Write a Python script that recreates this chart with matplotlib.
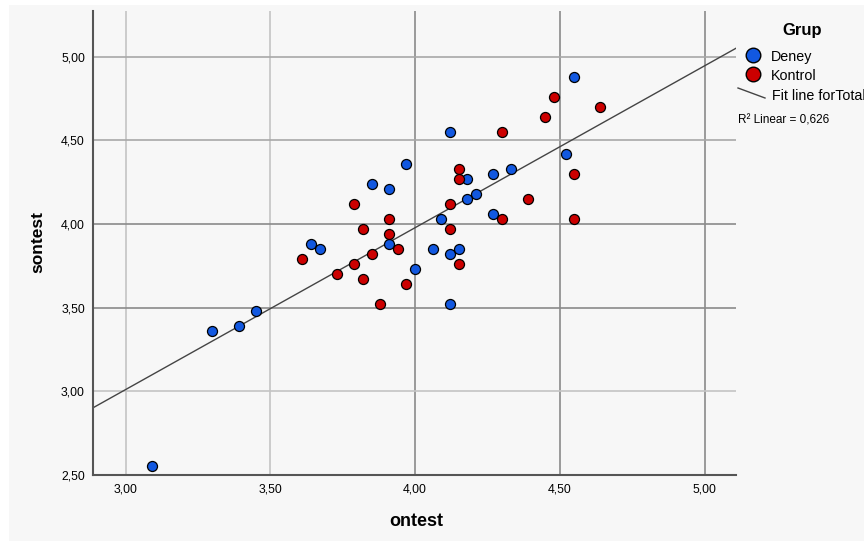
import numpy as np
import matplotlib
matplotlib.use("Agg")
import matplotlib.pyplot as plt
from matplotlib.lines import Line2D
from matplotlib.patches import Rectangle

plt.rcParams['font.family'] = ['Liberation Sans', 'DejaVu Sans']

# Deney group
deney_ontest = [3.09, 3.30, 3.39, 3.45, 3.64, 3.67, 3.91, 4.00, 3.97, 3.85, 3.91, 4.55, 4.12,
                4.52, 4.18, 4.27, 4.33, 4.21, 4.18, 4.09, 4.27, 4.06, 4.12, 4.15, 4.12]
deney_sontest = [2.55, 3.36, 3.39, 3.48, 3.88, 3.85, 3.88, 3.73, 4.36, 4.24, 4.21, 4.88, 4.55,
                 4.42, 4.27, 4.30, 4.33, 4.18, 4.15, 4.03, 4.06, 3.85, 3.82, 3.85, 3.52]
# Kontrol group
kontrol_ontest = [3.61, 3.79, 3.82, 3.91, 3.91, 3.94, 3.85, 3.79, 3.73, 3.82, 3.97, 3.88, 4.48,
                  4.64, 4.45, 4.30, 4.15, 4.15, 4.55, 4.39, 4.12, 4.30, 4.55, 4.12, 4.15]
kontrol_sontest = [3.79, 4.12, 3.97, 4.03, 3.94, 3.85, 3.82, 3.76, 3.70, 3.67, 3.64, 3.52, 4.76,
                   4.70, 4.64, 4.55, 4.33, 4.27, 4.30, 4.15, 4.12, 4.03, 4.03, 3.97, 3.76]

x_ticks = [3.0, 3.5, 4.0, 4.5, 5.0]
y_ticks = [2.5, 3.0, 3.5, 4.0, 4.5, 5.0]
r2_text = "R² Linear = 0,626"

W, H = 864, 541
fig = plt.figure(figsize=(W / 100, H / 100), dpi=100)
fig.patch.set_facecolor('white')
fig.patches.append(Rectangle((9 / W, 0), 1, 1 - 5 / H, transform=fig.transFigure,
                             facecolor='#f7f7f7', edgecolor='none', zorder=-10))

ax = fig.add_axes([93.3 / W, 1 - 474.7 / H, (736 - 93.3) / W, (474.7 - 11) / H])
ax.set_facecolor('#f7f7f7')
ax.set_xlim(2.8885, 5.108)
ax.set_ylim(2.5, 5.274)

# grid lines
xg_colors = {3.0: '#c4c4c4', 3.5: '#c4c4c4', 4.0: '#8a8a8a', 4.5: '#8a8a8a', 5.0: '#8a8a8a'}
yg_colors = {5.0: '#a8a8a8', 4.5: '#a8a8a8', 4.0: '#8a8a8a', 3.5: '#8a8a8a', 3.0: '#c4c4c4'}
for v, c in xg_colors.items():
    ax.axvline(v, color=c, lw=1.2, zorder=0)
for v, c in yg_colors.items():
    ax.axhline(v, color=c, lw=1.2, zorder=0)

# fit line for total
allx = np.array(deney_ontest + kontrol_ontest)
ally = np.array(deney_sontest + kontrol_sontest)
b, a = np.polyfit(allx, ally, 1)
xl = np.array(ax.get_xlim())
ax.plot(xl, a + b * xl, color='#444444', lw=1.0, zorder=2)

ax.scatter(deney_ontest, deney_sontest, s=52, c='#1258e0', edgecolors='black',
           linewidths=0.9, zorder=3)
ax.scatter(kontrol_ontest, kontrol_sontest, s=52, c='#cc0000', edgecolors='black',
           linewidths=0.9, zorder=3)

ax.set_xticks(x_ticks)
ax.set_yticks(y_ticks)
fmt = lambda v: f"{v:.2f}".replace('.', ',')
ax.set_xticklabels([fmt(v) for v in x_ticks], fontsize=8.8)
ax.set_yticklabels([fmt(v) for v in y_ticks], fontsize=8.8)
ax.tick_params(length=0, pad=6)

for s in ['top', 'right']:
    ax.spines[s].set_visible(False)
for s in ['left', 'bottom']:
    ax.spines[s].set_color('#555555')
    ax.spines[s].set_linewidth(1.5)

fig.text(416 / W, 1 - 521 / H, 'ontest', fontsize=13, fontweight='bold',
         ha='center', va='center')
fig.text(38 / W, 1 - 242 / H, 'sontest', fontsize=12.5, fontweight='bold',
         ha='center', va='center', rotation=90)

# legend
fig.text(802 / W, 1 - 30 / H, 'Grup', fontsize=12, fontweight='bold', ha='center', va='center')
fig.add_artist(Line2D([752.7 / W], [1 - 55 / H], marker='o', markersize=10.5,
                      markerfacecolor='#1258e0', markeredgecolor='black', markeredgewidth=1,
                      transform=fig.transFigure))
fig.add_artist(Line2D([752.7 / W], [1 - 74 / H], marker='o', markersize=10.5,
                      markerfacecolor='#cc0000', markeredgecolor='black', markeredgewidth=1,
                      transform=fig.transFigure))
fig.text(770.5 / W, 1 - 57 / H, 'Deney', fontsize=10.3, ha='left', va='center')
fig.text(770.5 / W, 1 - 76 / H, 'Kontrol', fontsize=10.3, ha='left', va='center')
fig.add_artist(Line2D([738 / W, 765 / W], [1 - 88 / H, 1 - 98 / H], color='#444444', lw=1.0,
                      transform=fig.transFigure))
fig.text(772 / W, 1 - 96 / H, 'Fit line forTotal', fontsize=10.3, ha='left', va='center')
fig.text(738 / W, 1 - 121 / H, r2_text, fontsize=8.5, ha='left', va='center')

fig.savefig('out.png', dpi=100, facecolor=fig.get_facecolor())
